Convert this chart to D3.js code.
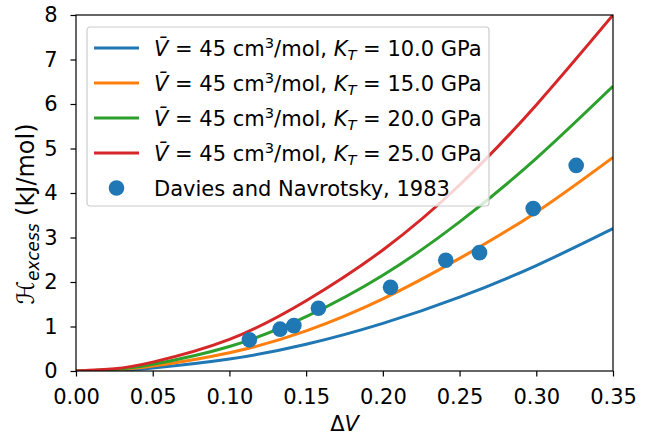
<!DOCTYPE html>
<html lang="en">
<head>
<meta charset="UTF-8">
<title>Excess enthalpy</title>
<script src="https://d3js.org/d3.v7.min.js"></script>
<style>
  body { margin: 0; background: #fff; }
  text { font-family: "DejaVu Sans", sans-serif; fill: #000; }
</style>
</head>
<body>
<div id="chart"></div>
<script>
// values
var dvGrid = [0, 0.025, 0.05, 0.1, 0.15, 0.2, 0.25, 0.3, 0.35];
var hK10 = [0, 0.015, 0.07, 0.27, 0.60, 1.07, 1.66, 2.37, 3.20];
var hK15 = [0, 0.025, 0.11, 0.41, 0.90, 1.62, 2.53, 3.57, 4.80];
var hK20 = [0, 0.035, 0.15, 0.55, 1.22, 2.15, 3.35, 4.78, 6.40];
var hK25 = [0, 0.05, 0.20, 0.71, 1.58, 2.72, 4.18, 5.98, 8.00];
var kLabels = ["10.0", "15.0", "20.0", "25.0"];
var lineColors = ["#1f77b4", "#ff7f0e", "#2ca02c", "#d62728"];

var obsDV = [0.113, 0.133, 0.142, 0.158, 0.205, 0.241, 0.263, 0.298, 0.326];
var obsH = [0.70, 0.94, 1.02, 1.41, 1.88, 2.49, 2.66, 3.65, 4.62];

var xTicks = [0, 0.05, 0.1, 0.15, 0.2, 0.25, 0.3, 0.35];
var yTicks = [0, 1, 2, 3, 4, 5, 6, 7, 8];

var W = 646, H = 435;
var margin = {top: 15, right: 33, bottom: 64, left: 76};
var width = W - margin.left - margin.right,
    height = H - margin.top - margin.bottom;
var fs = 21;

var svg = d3.select("#chart").append("svg")
    .attr("width", W).attr("height", H);
var g = svg.append("g")
    .attr("transform", "translate(" + margin.left + "," + margin.top + ")");

var x = d3.scaleLinear().domain([0, 0.35]).range([0, width]);
var y = d3.scaleLinear().domain([0, 8]).range([height, 0]);

var series = [hK10, hK15, hK20, hK25];
var line = d3.line()
    .x(function (d, i) { return x(dvGrid[i]); })
    .y(function (d) { return y(d); })
    .curve(d3.curveNatural);

g.append("clipPath").attr("id", "clip")
  .append("rect").attr("width", width).attr("height", height);

var plot = g.append("g").attr("clip-path", "url(#clip)");
series.forEach(function (s, i) {
    plot.append("path")
        .datum(s)
        .attr("fill", "none")
        .attr("stroke", lineColors[i])
        .attr("stroke-width", 3)
        .attr("d", line);
});

g.selectAll("circle.obs")
    .data(obsDV)
  .enter().append("circle")
    .attr("class", "obs")
    .attr("cx", function (d) { return x(d); })
    .attr("cy", function (d, i) { return y(obsH[i]); })
    .attr("r", 7.8)
    .attr("fill", "#1f77b4");

// axes
var xAxis = g.append("g")
    .attr("transform", "translate(0," + height + ")")
    .call(d3.axisBottom(x).tickValues(xTicks).tickFormat(d3.format(".2f"))
        .tickSizeInner(5.5).tickSizeOuter(0).tickPadding(13));
var yAxis = g.append("g")
    .call(d3.axisLeft(y).tickValues(yTicks).tickFormat(d3.format("d"))
        .tickSizeInner(5.5).tickSizeOuter(0).tickPadding(13));
[xAxis, yAxis].forEach(function (a) {
    a.selectAll("text").style("font-size", fs + "px")
        .style("font-family", "DejaVu Sans");
    a.selectAll("line").attr("stroke", "#000").attr("stroke-width", 1.2);
    a.select(".domain").remove();
});

// frame
g.append("rect")
    .attr("width", width).attr("height", height)
    .attr("fill", "none").attr("stroke", "#000").attr("stroke-width", 1.2);

// axis labels
var xl = svg.append("text")
    .attr("x", margin.left + width / 2).attr("y", 431)
    .attr("text-anchor", "middle")
    .style("font-size", fs + "px");
xl.append("tspan").text("Δ");
xl.append("tspan").style("font-style", "italic").text("V");

var yfs = 24;
var yl = svg.append("text")
    .attr("transform", "translate(34,214) rotate(-90)")
    .attr("text-anchor", "middle")
    .style("font-size", yfs + "px");
yl.append("tspan").style("font-style", "italic").text("ℋ");
yl.append("tspan").attr("dy", 5).style("font-size", (yfs * 0.7) + "px")
    .style("font-style", "italic").text("excess");
yl.append("tspan").attr("dy", -5).text(" (kJ/mol)");

// legend
var leg = svg.append("g").attr("transform", "translate(87,27)");
leg.append("rect")
    .attr("width", 402).attr("height", 179)
    .attr("rx", 3)
    .attr("fill", "#fff").attr("fill-opacity", 0.8)
    .attr("stroke", "#ccc").attr("stroke-width", 1.2);

kLabels.forEach(function (k, i) {
    var cy = 21 + i * 35;
    leg.append("line")
        .attr("x1", 7).attr("x2", 52).attr("y1", cy).attr("y2", cy)
        .attr("stroke", lineColors[i]).attr("stroke-width", 3);
    var t = leg.append("text")
        .attr("x", 67).attr("y", cy + 8)
        .style("font-size", fs + "px");
    t.append("tspan").style("font-style", "italic").text("V\u0304");
    t.append("tspan").text(" = 45 cm");
    t.append("tspan").attr("dy", -8).style("font-size", (fs * 0.7) + "px").text("3");
    t.append("tspan").attr("dy", 8).text("/mol, ");
    t.append("tspan").style("font-style", "italic").text("K");
    t.append("tspan").attr("dy", 4).style("font-size", (fs * 0.7) + "px")
        .style("font-style", "italic").text("T");
    t.append("tspan").attr("dy", -4).text(" = " + k + " GPa");
});
leg.append("circle")
    .attr("cx", 29.5).attr("cy", 21 + 4 * 35).attr("r", 7.8)
    .attr("fill", "#1f77b4");
leg.append("text")
    .attr("x", 67).attr("y", 21 + 4 * 35 + 8)
    .style("font-size", fs + "px")
    .text("Davies and Navrotsky, 1983");
</script>
</body>
</html>
